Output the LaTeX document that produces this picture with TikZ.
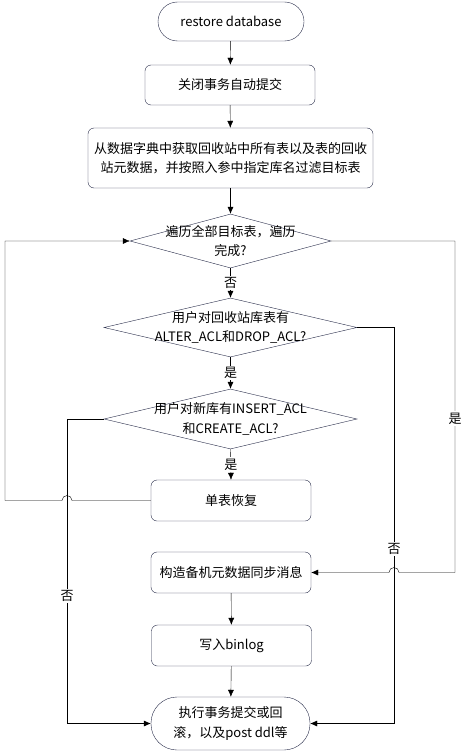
\documentclass[tikz,border=0pt]{standalone}
\usepackage{fontspec}
\setmainfont{Noto Sans CJK SC}
\usepackage{xcolor}
\usetikzlibrary{arrows.meta, shapes.geometric, calc}
\definecolor{boxline}{RGB}{38,43,72}

\begin{document}
\begin{tikzpicture}[x=1pt, y=1pt,
  font=\fontsize{13}{19.5}\selectfont,
  proc/.style={draw=boxline, rounded corners=6pt, align=center, inner sep=0pt,
    minimum width=160pt, minimum height=41pt},
  decision/.style={draw=boxline, diamond, inner sep=0pt},
  flow/.style={-{Latex[length=7pt,width=6pt]}},
  lbl/.style={fill=white, inner sep=1.5pt}]
  \useasboundingbox (0,0) rectangle (466,-752);
  % corridors for the side lines
  \coordinate (railL) at (5,0);
  \coordinate (railN) at (67,0);
  \coordinate (railR) at (394,0);
  \coordinate (railY) at (455,0);
  \node[proc, minimum width=146pt, minimum height=39pt, rounded corners=19.5pt] (start) at (231,-21.5) {restore database};
  \node[proc, minimum width=170pt, minimum height=40pt] (close) at (230,-85) {关闭事务自动提交};
  \node[proc, minimum width=285pt, minimum height=60pt] (fetch) at (230.5,-158) {从数据字典中获取回收站中所有表以及表的回收\\站元数据，并按照入参中指定库名过滤目标表};
  \node[decision, minimum width=201pt, minimum height=54pt,
    label={[align=center]center:{遍历全部目标表，遍历\\完成?}}] (loop) at (230.5,-241) {};
  \node[decision, minimum width=253pt, minimum height=59pt,
    label={[align=center]center:{用户对回收站库表有\\ALTER\_ACL和DROP\_ACL?}}] (chkold) at (230.5,-327.5) {};
  \node[decision, minimum width=253pt, minimum height=60pt,
    label={[align=center]center:{用户对新库有INSERT\_ACL\\和CREATE\_ACL?}}] (chknew) at (230.5,-419) {};
  \node[proc] (single) at (231,-500.5) {单表恢复};
  \node[proc] (sync) at (231,-572.5) {构造备机元数据同步消息};
  \node[proc] (binlog) at (231.5,-645.5) {写入binlog};
  \node[proc, minimum width=159pt, minimum height=53pt, rounded corners=26pt] (finish) at (230.5,-723.5) {执行事务提交或回\\滚，以及post ddl等};
  % main line
  \draw[flow] (start) -- (close);
  \draw[flow] (close) -- (fetch);
  \draw[flow] (fetch) -- (loop);
  \draw[flow] (loop.south) -- node[lbl] {否} (chkold.north);
  \draw[flow] (chkold.south) -- node[lbl] {是} (chknew.north);
  \draw[flow] (chknew.south) -- node[lbl] {是} (single.north);
  \draw[flow] (sync) -- (binlog);
  \draw[flow] (binlog) -- (finish);
  % back to the loop
  \draw[flow] (single.west) -- ($(single.west -| railN)+(5,0)$)
    arc[start angle=0, end angle=180, radius=5]
    -- (single.west -| railL) -- (loop.west -| railL) -- (loop.west);
  % no rights on the new database
  \draw[flow] (chknew.west) -- (chknew.west -| railN)
    -- node[lbl, pos=0.58] {否} (finish.west -| railN) -- (finish.west);
  % loop finished
  \draw[flow] (loop.east) -- (loop.east -| railY)
    -- node[lbl, pos=0.535] {是} (sync.east -| railY)
    -- ($(sync.east -| railR)+(5,0)$)
    arc[start angle=0, end angle=180, radius=5] -- (sync.east);
  % no rights on the recycle bin
  \draw[flow] (chkold.east) -- (chkold.east -| railR)
    -- node[lbl, pos=0.56] {否} (finish.east -| railR) -- (finish.east);
\end{tikzpicture}
\end{document}
